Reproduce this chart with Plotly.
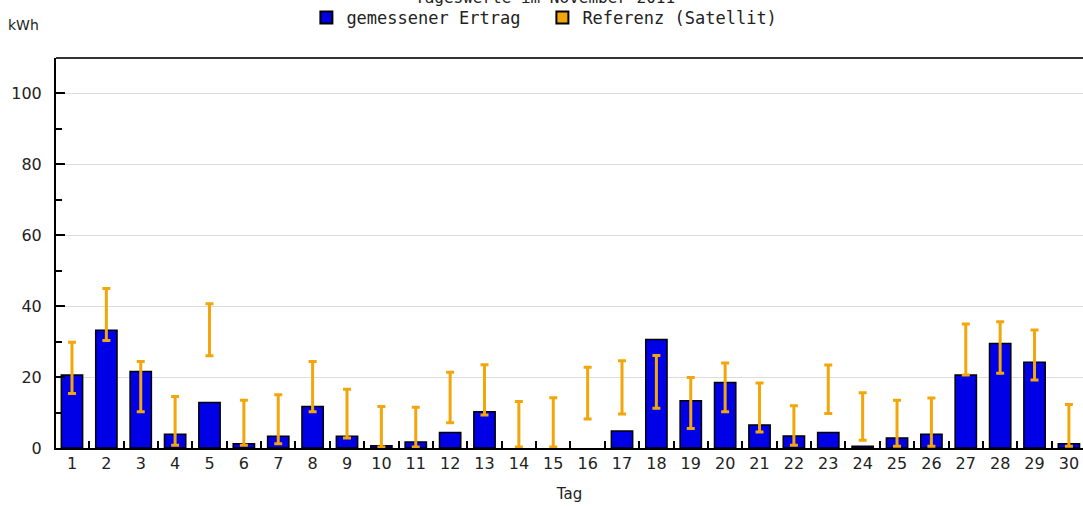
import plotly.graph_objects as go

days = list(range(1, 31))
ertrag = [20.6, 33.2, 21.6, 3.9, 12.8, 1.2, 3.3, 11.7, 3.3, 0.6,
          1.7, 4.4, 10.2, None, None, None, 4.8, 30.6, 13.3, 18.5,
          6.5, 3.4, 4.4, 0.5, 2.8, 3.9, 20.6, 29.5, 24.2, 1.2]
ref_low = [15.4, 30.3, 10.2, 0.8, 26.0, 0.8, 1.2, 10.2, 2.8, 0.3,
           0.3, 7.1, 9.3, 0.3, 0.3, 8.2, 9.6, 11.2, 5.5, 10.2,
           4.5, 0.8, 9.7, 2.2, 0.5, 0.5, 20.6, 21.1, 19.2, 0.5]
ref_high = [29.8, 45.0, 24.4, 14.5, 40.7, 13.5, 15.0, 24.4, 16.6, 11.7,
            11.5, 21.4, 23.5, 13.1, 14.2, 22.8, 24.6, 26.1, 19.9, 24.0,
            18.3, 11.9, 23.4, 15.6, 13.5, 14.1, 35.0, 35.6, 33.3, 12.3]

mid = [(a + b) / 2 for a, b in zip(ref_low, ref_high)]
half = [(b - a) / 2 for a, b in zip(ref_low, ref_high)]

BLUE = "#0000E6"
ORANGE = "#F2A60C"
FONT = "DejaVu Sans"
MONO = "DejaVu Sans Mono"

fig = go.Figure()
fig.add_trace(go.Bar(
    x=days, y=ertrag, width=0.62,
    marker=dict(color=BLUE, line=dict(color="black", width=1.5)),
    name="gemessener Ertrag",
))
fig.add_trace(go.Scatter(
    x=days, y=mid, mode="markers",
    marker=dict(size=1, color="rgba(0,0,0,0)"),
    error_y=dict(type="data", symmetric=True, array=half,
                 color=ORANGE, thickness=3, width=4),
    showlegend=False, hoverinfo="skip",
))
fig.add_trace(go.Scatter(
    x=[None], y=[None], mode="markers",
    marker=dict(symbol="square", size=13, color=ORANGE,
                line=dict(color="black", width=1)),
    name="Referenz (Satellit)",
))

fig.update_layout(
    width=1083, height=506,
    margin=dict(l=56, r=0, t=58, b=58, autoexpand=False),
    paper_bgcolor="white", plot_bgcolor="white",
    showlegend=True,
    legend=dict(orientation="h", x=0.4736, xanchor="center", y=1.0,
                yref="container", yanchor="top", entrywidth=191,
                font=dict(family=MONO, size=17, color="#222"),
                itemsizing="constant", bgcolor="rgba(0,0,0,0)"),
    annotations=[
        dict(text="Tageswerte im November 2011", xref="paper", yref="paper",
             x=0.476, y=1.155, xanchor="center", yanchor="middle", showarrow=False,
             font=dict(family=MONO, size=16, color="#222")),
        dict(text="kWh", xref="paper", yref="paper", x=-0.049, y=1.085,
             xanchor="left", yanchor="middle", showarrow=False,
             font=dict(family=FONT, size=14, color="#222")),
    ],
    shapes=[dict(type="line", xref="paper", yref="paper", x0=0, x1=1, y0=1, y1=1,
                 line=dict(color="#333", width=2))],
)
fig.update_xaxes(
    range=[0.535, 30.41], tickmode="array", tickvals=days,
    ticktext=[str(d) for d in days], ticks="", automargin=False,
    showline=True, linecolor="black", linewidth=2, showgrid=False, zeroline=False,
    tickfont=dict(family=FONT, size=16, color="#222"),
    minor=dict(tick0=0.5, dtick=1, ticks="inside", ticklen=7,
               tickcolor="black", tickwidth=2, showgrid=False),
    title=dict(text="Tag", font=dict(family=FONT, size=15, color="#222"), standoff=16),
)
fig.update_yaxes(
    range=[0, 110], tick0=0, dtick=20, ticks="inside", ticklen=9,
    tickcolor="black", tickwidth=2, automargin=False,
    showline=True, linecolor="black", linewidth=2,
    showgrid=True, gridcolor="#dcdcdc", gridwidth=1, zeroline=False,
    tickfont=dict(family=FONT, size=16, color="#222"),
    ticklabelstandoff=9,
    minor=dict(tick0=0, dtick=10, ticks="inside", ticklen=6,
               tickcolor="black", tickwidth=2, showgrid=False),
)

fig.write_html("out.html", config={"displayModeBar": False},
               post_script="document.body.style.margin='0px';")
